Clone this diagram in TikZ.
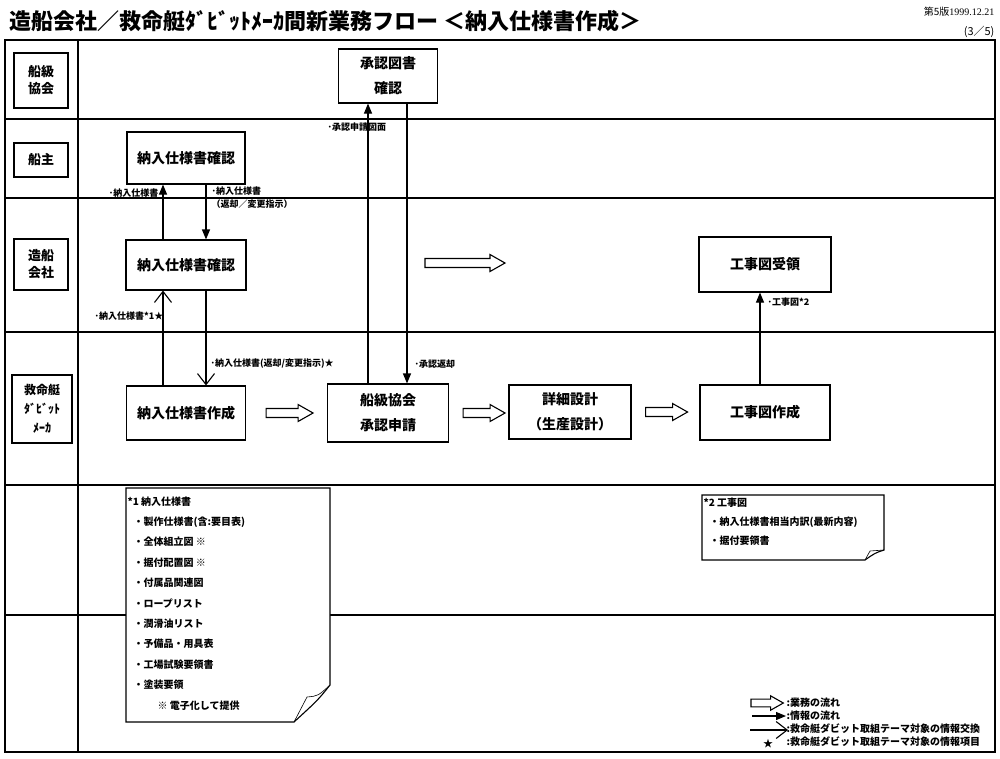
\documentclass[tikz,border=0pt]{standalone}
\usepackage{fontspec}
\setmainfont{Noto Sans CJK JP}
\newfontfamily\datefont{Liberation Serif}
\usetikzlibrary{arrows.meta,calc}

\tikzset{
  lane/.style={draw, align=center, inner sep=0pt, font=\fontsize{13}{17}\selectfont\bfseries},
  task/.style={draw, fill=white, align=center, inner sep=0pt, font=\fontsize{14}{25}\selectfont\bfseries},
  info/.style={-{Triangle[length=10pt,width=8pt]}},
  theme/.style={-{Straight Barb[length=11pt,width=17pt]}},
  lbl/.style={inner sep=1pt, font=\fontsize{9}{13}\selectfont\bfseries},
  memo/.style={fill=white},
  memotext/.style={anchor=north west, align=left, inner sep=0pt},
  legendtext/.style={anchor=west, inner sep=0pt, font=\fontsize{10}{10}\selectfont\bfseries},
  pics/bizarrow/.style={code={
    \draw[fill=white] (0,-4.5) -- (#1-15,-4.5) -- (#1-15,-8.5) -- (#1,0) -- (#1-15,8.5) -- (#1-15,4.5) -- (0,4.5) -- cycle;}},
}

\begin{document}
\begin{tikzpicture}[x=1pt,y=-1pt,line width=1.1pt]
\useasboundingbox (0,0) rectangle (1000,758);

% title
\node[anchor=west, inner sep=0pt, font=\fontsize{22}{22}\selectfont\bfseries] (title) at (9,21)
  {造船会社／救命艇ﾀﾞﾋﾞｯﾄﾒｰｶ間新業務フロー ＜納入仕様書作成＞};
\node[anchor=east, inner sep=0pt, font=\fontsize{10}{10}\selectfont] (version) at (995,12) {第5版\datefont 1999.12.21};
\node[anchor=east, inner sep=0pt, font=\fontsize{11}{11}\selectfont] (page) at (995,32) {(3／5)};

% frame and lanes
\draw (5,40) rectangle (995,752);
\draw (78,40) -- (78,752);
\draw (5,119) -- (995,119);
\draw (5,198) -- (995,198);
\draw (5,332) -- (995,332);
\draw (5,485) -- (995,485);
\draw (5,615) -- (995,615);

\node[lane, minimum width=54pt, minimum height=55pt] (lanecls) at (41,80.5) {船級\\協会};
\node[lane, minimum width=54pt, minimum height=34pt] (laneowner) at (41,160) {船主};
\node[lane, minimum width=54pt, minimum height=51pt] (laneyard) at (41,264.5) {造船\\会社};
\node[lane, minimum width=60pt, minimum height=68pt, font=\fontsize{12}{19}\selectfont\bfseries] (lanemaker) at (42,409) {救命艇\\ﾀﾞﾋﾞｯﾄ\\ﾒｰｶ};

% tasks
\node[task, minimum width=99pt, minimum height=54pt] (approve) at (388,76) {承認図書\\確認};
\node[task, minimum width=118pt, minimum height=52pt] (owncheck) at (186,158) {納入仕様書確認};
\node[task, minimum width=120pt, minimum height=50pt] (yardcheck) at (186,265) {納入仕様書確認};
\node[task, minimum width=119pt, minimum height=54pt] (spec) at (186,413) {納入仕様書作成};
\node[task, minimum width=121pt, minimum height=58pt] (apply) at (388,413) {船級協会\\承認申請};
\node[task, minimum width=122pt, minimum height=54pt] (detail) at (570,412) {詳細設計\\（生産設計）};
\node[task, minimum width=130pt, minimum height=55pt] (drawmake) at (765,412.5) {工事図作成};
\node[task, minimum width=132pt, minimum height=55pt] (drawrecv) at (765,264.5) {工事図受領};

% information flow
\draw[info] ([xshift=-23pt]yardcheck.north) -- ([xshift=-23pt]owncheck.south);
\draw[info] ([xshift=20pt]owncheck.south) -- ([xshift=20pt]yardcheck.north);
\draw[theme] ([xshift=-23pt]spec.north) -- ([xshift=-23pt]yardcheck.south);
\draw[theme] ([xshift=20pt]yardcheck.south) -- ([xshift=20pt]spec.north);
\draw[info] ([xshift=-20pt]apply.north) -- ([xshift=-20pt]approve.south);
\draw[info] ([xshift=19pt]approve.south) -- ([xshift=19pt]apply.north);
\draw[info] ([xshift=-5pt]drawmake.north) -- ([xshift=-5pt]drawrecv.south);

\node[lbl, anchor=east] (lblspec) at (160,193) {･納入仕様書};
\node[lbl, anchor=north west, align=left] (lblreturn) at (210,185) {･納入仕様書\\（返却／変更指示）};
\node[lbl, anchor=east] (lblspecstar) at (165,316) {･納入仕様書*1★};
\node[lbl, anchor=west] (lblreturnstar) at (209,364) {･納入仕様書(返却/変更指示)★};
\node[lbl, anchor=west] (lblapply) at (326,127) {･承認申請図面};
\node[lbl, anchor=west] (lblapproved) at (413,364) {･承認返却};
\node[lbl, anchor=west] (lbldrawing) at (766,302) {･工事図*2};

% business flow
\pic at (425,263) {bizarrow=80};
\pic at ($(spec.east)+(20,0)$) {bizarrow=47};
\pic at ($(apply.east)+(14,0)$) {bizarrow=42};
\pic at ($(detail.east)+(14,0)$) {bizarrow=42};

% notes
\draw[memo] (126,488) -- (330,488) -- (330,685) .. controls (318,700) .. (294,722) -- (126,722) -- cycle;
\draw[line width=0.6pt] (294,722) -- (307,697) .. controls (318,696) .. (330,685);
\node[memotext, font=\fontsize{10}{20.4}\selectfont\bfseries] (memospec) at (127,496)
  {*1 納入仕様書\\
   \hspace*{6pt}・製作仕様書(含:要目表)\\
   \hspace*{6pt}・全体組立図 ※\\
   \hspace*{6pt}・据付配置図 ※\\
   \hspace*{6pt}・付属品関連図\\
   \hspace*{6pt}・ロープリスト\\
   \hspace*{6pt}・潤滑油リスト\\
   \hspace*{6pt}・予備品・用具表\\
   \hspace*{6pt}・工場試験要領書\\
   \hspace*{6pt}・塗装要領\\
   \hspace*{30pt}※ 電子化して提供};

\draw[memo] (702,495) -- (884,495) -- (884,550) .. controls (875,553) .. (865,560) -- (702,560) -- cycle;
\draw[line width=0.6pt] (865,560) -- (870,551) -- (884,550);
\node[memotext, font=\fontsize{10}{19}\selectfont\bfseries] (memodrawing) at (703,497)
  {*2 工事図\\
   \hspace*{6pt}・納入仕様書相当内訳(最新内容)\\
   \hspace*{6pt}・据付要領書};

% legend
\pic[scale=0.85] at (751,703) {bizarrow=38};
\coordinate (infoa) at (752,716);
\coordinate (infob) at (786,716);
\draw[info] (infoa) -- (infob);
\coordinate (themea) at (750,730);
\coordinate (themeb) at (788,730);
\draw[theme] (themea) -- (themeb);
\node[inner sep=0pt, font=\fontsize{10}{10}\selectfont] (legstar) at (768,744) {★};
\node[legendtext] (legbiz) at (786,703) {:業務の流れ};
\node[legendtext] (leginfo) at (786,716) {:情報の流れ};
\node[legendtext] (legtheme) at (786,729) {:救命艇ダビット取組テーマ対象の情報交換};
\node[legendtext] (legitem) at (786,742) {:救命艇ダビット取組テーマ対象の情報項目};
\end{tikzpicture}
\end{document}
